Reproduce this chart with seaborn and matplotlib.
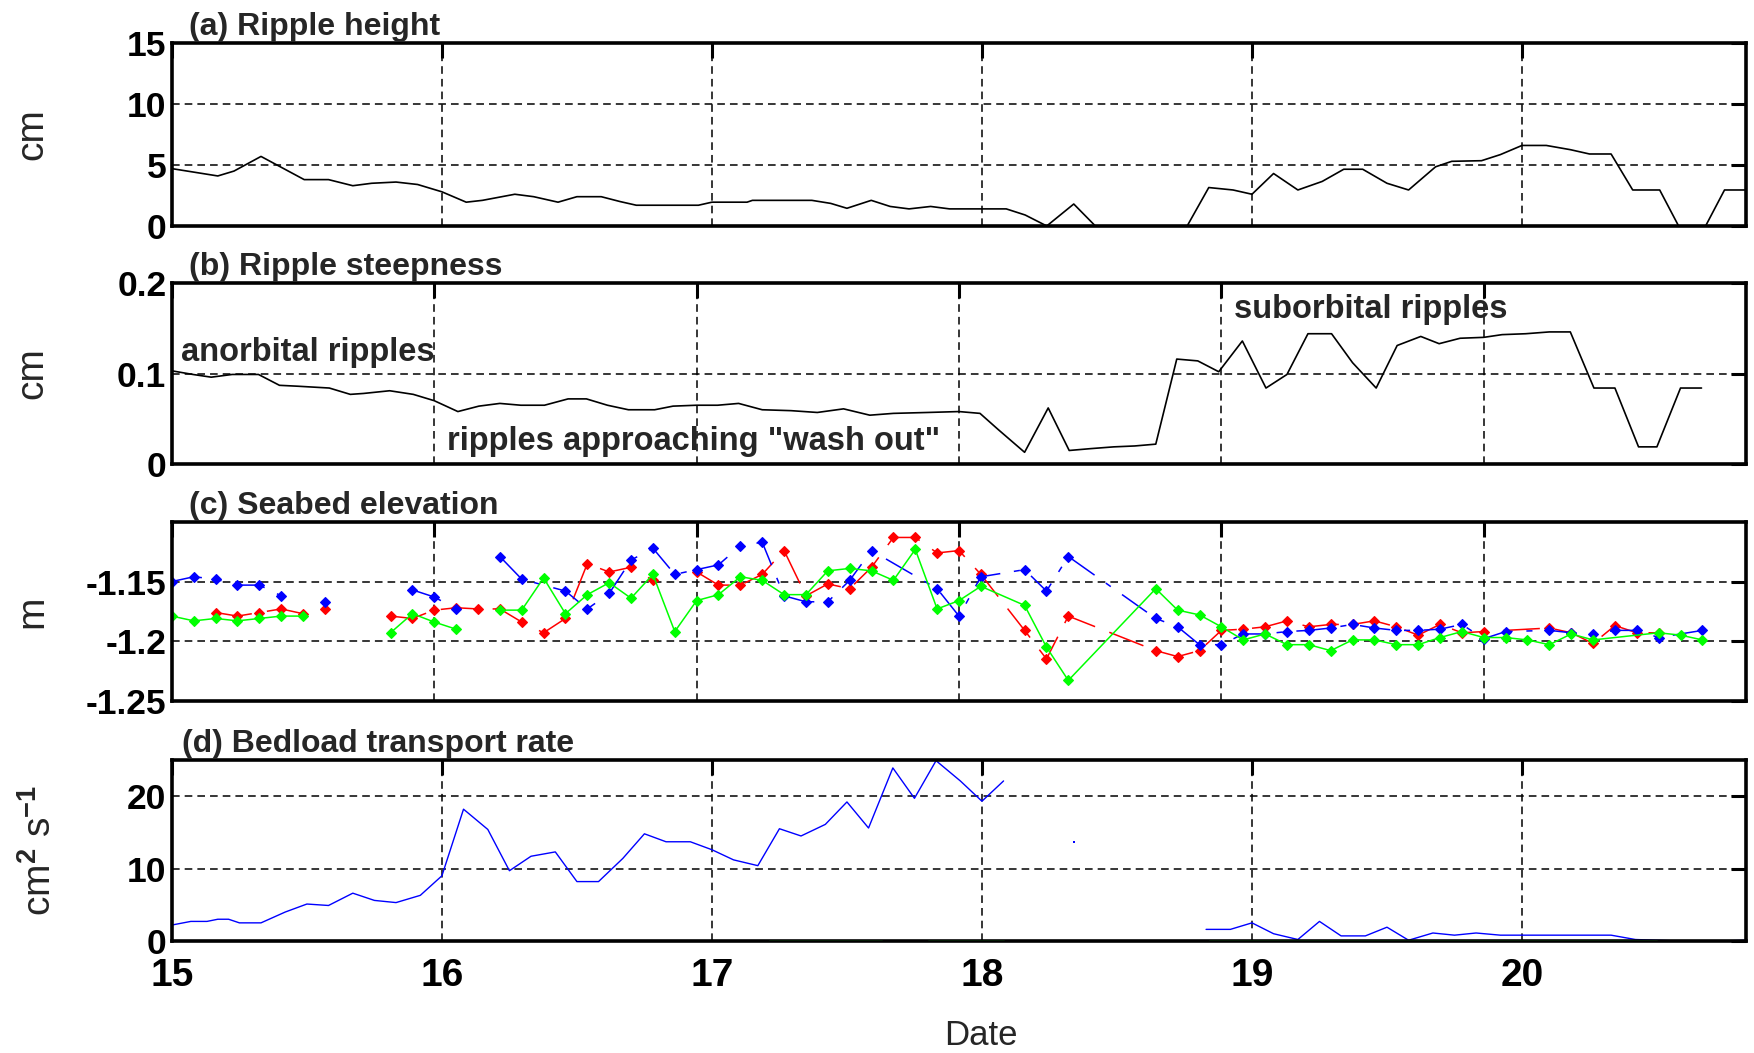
import numpy as np
import pandas as pd
import matplotlib
matplotlib.use("Agg")
import matplotlib.pyplot as plt
import seaborn as sns

# ------------------------------------------------------------------ data
# (a) Ripple height (cm)
height_day = [15.00, 15.17, 15.23, 15.33, 15.49, 15.58, 15.67, 15.74, 15.83, 15.91,
              16.00, 16.09, 16.15, 16.27, 16.34, 16.43, 16.50, 16.59, 16.66, 16.72,
              16.81, 16.95, 17.00, 17.13, 17.15, 17.37, 17.44, 17.50, 17.59, 17.66,
              17.73, 17.81, 17.88, 18.00, 18.09, 18.16, 18.24, 18.34, 18.42, 18.50,
              18.58, 18.67, 18.76, 18.84, 18.93, 19.00, 19.08, 19.17, 19.26, 19.34,
              19.41, 19.50, 19.58, 19.68, 19.74, 19.85, 19.92, 20.00, 20.09, 20.18,
              20.25, 20.33, 20.41, 20.51, 20.58, 20.68, 20.75, 20.83]
height_cm = [4.7, 4.1, 4.5, 5.7, 3.8, 3.8, 3.3, 3.5, 3.6, 3.4,
             2.8, 1.95, 2.1, 2.6, 2.4, 1.95, 2.4, 2.4, 2.0, 1.7,
             1.7, 1.7, 1.95, 1.95, 2.1, 2.1, 1.85, 1.45, 2.1, 1.6,
             1.4, 1.6, 1.4, 1.4, 1.4, 0.9, 0.0, 1.8, 0.0, 0.0,
             0.0, 0.0, 0.0, 3.15, 2.95, 2.6, 4.3, 2.95, 3.65, 4.65,
             4.65, 3.5, 2.95, 4.85, 5.3, 5.35, 5.85, 6.6, 6.6, 6.25,
             5.9, 5.9, 2.95, 2.95, 0.0, 0.0, 2.95, 2.95]

# (b) Ripple steepness
steep_day = [15.00, 15.08, 15.15, 15.23, 15.33, 15.41, 15.48, 15.60, 15.68, 15.73,
             15.83, 15.92, 16.00, 16.09, 16.17, 16.25, 16.33, 16.42, 16.51, 16.58,
             16.66, 16.74, 16.84, 16.91, 17.00, 17.08, 17.16, 17.25, 17.36, 17.46,
             17.56, 17.66, 17.75, 17.88, 18.00, 18.08, 18.15, 18.25, 18.34, 18.42,
             18.50, 18.59, 18.67, 18.75, 18.83, 18.91, 18.99, 19.08, 19.17, 19.25,
             19.33, 19.42, 19.50, 19.59, 19.67, 19.76, 19.83, 19.91, 20.00, 20.07,
             20.16, 20.25, 20.33, 20.42, 20.50, 20.59, 20.66, 20.75, 20.83]
steepness = [0.103, 0.099, 0.096, 0.099, 0.099, 0.087, 0.086, 0.084, 0.077, 0.078,
             0.081, 0.077, 0.070, 0.058, 0.064, 0.067, 0.065, 0.065, 0.072, 0.072,
             0.065, 0.060, 0.060, 0.064, 0.065, 0.065, 0.067, 0.060, 0.059, 0.057,
             0.061, 0.054, 0.056, 0.057, 0.058, 0.056, 0.038, 0.013, 0.062, 0.015,
             0.017, 0.019, 0.020, 0.022, 0.116, 0.114, 0.102, 0.136, 0.084, 0.099,
             0.144, 0.144, 0.112, 0.084, 0.131, 0.141, 0.133, 0.139, 0.140, 0.143,
             0.144, 0.146, 0.146, 0.084, 0.084, 0.019, 0.019, 0.084, 0.084]

# (c) Seabed elevation (m); sample index = 2-hour interval since day 15; nan = gap
blue_idx = [0, 1, 2, 3, 4, 5, 6, 7, 8, 11, 12, 13, 14, 15, 16, 18, 19, 20, 21, 22,
            23, 24, 25, 26, 27, 28, 29, 30, 31, 32, 35, 36, 37, 39, 40, 41, 45, 46, 47, 48,
            49, 50, 51, 52, 53, 54, 55, 56, 57, 58, 59, 60, 61, 63, 64, 65, 66, 67, 68, 70]
blue_elev = [-1.150, -1.146, -1.148, -1.153, -1.153, -1.162, np.nan, -1.167, np.nan, -1.157,
             -1.163, -1.173, np.nan, -1.129, -1.148, -1.158, -1.173, -1.160, -1.132, -1.122,
             -1.144, -1.140, -1.136, -1.120, -1.117, -1.162, -1.167, -1.167, -1.149, -1.124,
             -1.156, -1.179, -1.146, -1.140, -1.158, -1.129, -1.181, -1.188, -1.203, -1.203,
             -1.194, -1.194, -1.192, -1.191, -1.189, -1.186, -1.189, -1.191, -1.191, -1.190,
             -1.186, -1.198, -1.192, -1.191, -1.193, -1.194, -1.191, -1.191, -1.197, -1.191]
red_idx = [2, 3, 4, 5, 6, 6.5, 7, 8, 10, 11, 12, 13, 14, 15, 16, 17, 18, 19, 20, 21,
           22, 23, 24, 25, 26, 27, 28, 29, 30, 31, 32, 33, 34, 35, 36, 37, 39, 40, 41, 45,
           46, 47, 48, 49, 50, 51, 52, 53, 54, 55, 56, 57, 58, 59, 60, 63, 64, 65, 66, 67, 68]
red_elev = [-1.176, -1.179, -1.176, -1.173, -1.177, np.nan, -1.173, np.nan, -1.179, -1.181,
            -1.174, -1.172, -1.173, -1.173, -1.184, -1.193, -1.181, -1.135, -1.142, -1.138,
            -1.149, np.nan, -1.142, -1.153, -1.153, -1.144, -1.124, -1.162, -1.152, -1.156,
            -1.138, -1.113, -1.113, -1.126, -1.124, -1.144, -1.191, -1.215, -1.179, -1.208,
            -1.213, -1.208, -1.191, -1.190, -1.188, -1.183, -1.188, -1.186, -1.186, -1.183,
            -1.188, -1.195, -1.186, -1.193, -1.192, -1.189, -1.193, -1.202, -1.187, -1.193, -1.193]
green_idx = [0, 1, 2, 3, 4, 5, 6, 8, 10, 11, 12, 13, 14, 15, 16, 17, 18, 19, 20, 21,
             22, 23, 24, 25, 26, 27, 28, 29, 30, 31, 32, 33, 34, 35, 36, 37, 39, 40, 41, 45,
             46, 47, 48, 49, 50, 51, 52, 53, 54, 55, 56, 57, 58, 59, 60, 61, 62, 63, 64, 65,
             68, 69, 70]
green_elev = [-1.179, -1.183, -1.181, -1.183, -1.181, -1.179, -1.179, np.nan, -1.193, -1.177,
              -1.184, -1.190, np.nan, -1.174, -1.174, -1.147, -1.177, -1.161, -1.151, -1.164,
              -1.144, -1.192, -1.166, -1.161, -1.146, -1.149, -1.161, -1.161, -1.141, -1.139,
              -1.141, -1.149, -1.123, -1.173, -1.166, -1.154, -1.170, -1.205, -1.233, -1.156,
              -1.174, -1.178, -1.188, -1.199, -1.194, -1.203, -1.203, -1.208, -1.199, -1.199,
              -1.203, -1.203, -1.197, -1.192, -1.197, -1.197, -1.199, -1.203, -1.194, -1.199,
              -1.193, -1.195, -1.199]

# (d) Bedload transport rate (cm^2 s^-1); nan = gap
bed_day = [15.00, 15.07, 15.13, 15.17, 15.21, 15.25, 15.33, 15.42, 15.50, 15.58,
           15.67, 15.75, 15.83, 15.92, 16.00, 16.08, 16.17, 16.25, 16.33, 16.42,
           16.50, 16.58, 16.67, 16.75, 16.83, 16.92, 17.00, 17.08, 17.17, 17.25,
           17.33, 17.42, 17.50, 17.58, 17.67, 17.75, 17.83, 17.92, 18.00, 18.08,
           18.20, 18.34, 18.50, 18.83, 18.92, 19.00, 19.08, 19.17, 19.25, 19.33,
           19.42, 19.50, 19.58, 19.67, 19.75, 19.83, 19.92, 20.00, 20.08, 20.17,
           20.25, 20.33, 20.42, 20.50, 20.58, 20.67, 20.75, 20.83]
bed_rate = [2.2, 2.7, 2.7, 3.0, 3.0, 2.5, 2.5, 4.0, 5.1, 4.9,
            6.6, 5.6, 5.3, 6.3, 9.0, 18.2, 15.4, 9.7, 11.7, 12.3,
            8.2, 8.2, 11.4, 14.8, 13.7, 13.7, 12.6, 11.2, 10.4, 15.5,
            14.5, 16.1, 19.2, 15.6, 23.9, 19.7, 24.9, 22.1, 19.3, 22.1,
            np.nan, 13.7, np.nan, 1.6, 1.6, 2.5, 1.0, 0.2, 2.7, 0.7,
            0.7, 1.9, 0.1, 1.1, 0.8, 1.1, 0.8, 0.8, 0.8, 0.8,
            0.8, 0.8, 0.2, 0.1, 0.0, 0.0, 0.0, 0.1]
bed2_day = [17.21, 17.63, 17.64, 17.80, 18.08, 18.09, 18.84, 20.50]
bed2_rate = [0.0, 0.0, np.nan, 0.0, 0.0, np.nan, 0.0, 0.0]

day_ticks = [15, 16, 17, 18, 19, 20]
a_ticks, a_labels = [0, 5, 10, 15], ["0", "5", "10", "15"]
b_ticks, b_labels = [0, 0.1, 0.2], ["0", "0.1", "0.2"]
c_ticks, c_labels = [-1.25, -1.2, -1.15], ["-1.25", "-1.2", "-1.15"]
d_ticks, d_labels = [0, 10, 20], ["0", "10", "20"]

# ------------------------------------------------------------------ style
sns.set_style("white")
plt.rcParams["font.family"] = ["Liberation Sans", "DejaVu Sans"]
plt.rcParams["font.weight"] = "bold"
plt.rcParams["axes.unicode_minus"] = False
plt.rcParams["mathtext.fontset"] = "custom"
plt.rcParams["mathtext.rm"] = "Liberation Sans:bold"
plt.rcParams["mathtext.it"] = "Liberation Sans:bold"
plt.rcParams["mathtext.default"] = "rm"

YTICK_FS = 25.5
XTICK_FS = 28
YLABEL_FS = 28
XLABEL_FS = 25
TEXT_FS = 23.5
TITLE_FS = 23
GRID_LS = (0, (5, 3.3))


def segments(x, y):
    x = np.asarray(x, float)
    y = np.asarray(y, float)
    seg = np.cumsum(np.isnan(y))
    df = pd.DataFrame({"x": x, "y": y, "seg": seg})
    return df.dropna()


def style_axes(ax, xlim, ylim, yticks, ylabels, bottom_labels=False):
    ax.set_xlim(*xlim)
    ax.set_ylim(*ylim)
    ax.set_xticks(day_ticks)
    ax.set_xticklabels([str(d) for d in day_ticks])
    ax.set_yticks(yticks)
    ax.set_yticklabels(ylabels)
    ax.tick_params(direction="in", length=11, width=2.2, top=True, right=True,
                   pad=4, labelbottom=bottom_labels, colors="black")
    ax.tick_params(axis="y", labelsize=YTICK_FS)
    ax.tick_params(axis="x", pad=12, labelsize=XTICK_FS)
    ax.grid(True, color="black", linestyle=GRID_LS, linewidth=1.1)
    ax.set_axisbelow(True)
    for sp in ax.spines.values():
        sp.set_visible(True)
        sp.set_linewidth(2.6)
        sp.set_color("black")
    ax.set_xlabel("")
    ax.set_ylabel("")


def panel_title(ax, text, dx=12):
    ax.annotate(text, xy=(0, 1), xycoords="axes fraction", xytext=(dx, 5.5),
                textcoords="offset points", ha="left", va="baseline",
                fontsize=TITLE_FS)


fig = plt.figure(figsize=(17.54, 10.53), dpi=100)
L, W = 0.098, 0.8975
ax_a = fig.add_axes([L, 0.7854, W, 0.1738])
ax_b = fig.add_axes([L, 0.5593, W, 0.1719])
ax_c = fig.add_axes([L, 0.3346, W, 0.1697])
ax_d = fig.add_axes([L, 0.1064, W, 0.1719])

# (a)
df_a = pd.DataFrame({"day": height_day, "h": height_cm})
sns.lineplot(data=df_a, x="day", y="h", ax=ax_a, color="black", linewidth=1.2,
             sort=False, estimator=None)
style_axes(ax_a, (15, 20.83), (0, 15), a_ticks, a_labels)
panel_title(ax_a, "(a) Ripple height")
ax_a.set_ylabel("cm", fontsize=YLABEL_FS)
ax_a.yaxis.set_label_coords(-0.077, 0.5)

# (b)
df_b = pd.DataFrame({"day": steep_day, "s": steepness})
sns.lineplot(data=df_b, x="day", y="s", ax=ax_b, color="black", linewidth=1.2,
             sort=False, estimator=None)
style_axes(ax_b, (15, 21), (0, 0.2), b_ticks, b_labels)
panel_title(ax_b, "(b) Ripple steepness")
ax_b.set_ylabel("cm", fontsize=YLABEL_FS)
ax_b.yaxis.set_label_coords(-0.077, 0.5)
ax_b.text(15.035, 0.114, "anorbital ripples", fontsize=TEXT_FS, ha="left", va="baseline")
ax_b.text(16.05, 0.015, 'ripples approaching "wash out"', fontsize=TEXT_FS,
          ha="left", va="baseline")
ax_b.text(19.05, 0.161, "suborbital ripples", fontsize=TEXT_FS, ha="left", va="baseline")

# (c)
series_c = [
    (red_idx, red_elev, "#ff0000", (0, (24, 10))),
    (blue_idx, blue_elev, "#0000ff", (0, (20, 9, 4, 9))),
    (green_idx, green_elev, "#00ff00", "-"),
]
for idx, elev, col, ls in series_c:
    days = 15 + np.asarray(idx, float) * 2.0 / 24.0
    d = segments(days, elev)
    sns.lineplot(data=d, x="x", y="y", units="seg", estimator=None, ax=ax_c,
                 color=col, linewidth=1.1, linestyle=ls, marker="D", markersize=5.4,
                 markeredgecolor=col, markerfacecolor=col, markeredgewidth=0.8)
style_axes(ax_c, (15, 21), (-1.25, -1.10), c_ticks, c_labels)
panel_title(ax_c, "(c) Seabed elevation")
ax_c.set_ylabel("m", fontsize=YLABEL_FS)
ax_c.yaxis.set_label_coords(-0.077, 0.5)

# (d)
d_df = segments(bed_day, bed_rate)
counts = d_df["seg"].map(d_df["seg"].value_counts())
sns.lineplot(data=d_df[counts > 1], x="x", y="y", units="seg", estimator=None,
             ax=ax_d, color="#0000ff", linewidth=1.0)
sns.scatterplot(data=d_df[counts == 1], x="x", y="y", ax=ax_d, color="#0000ff",
                marker="s", s=3, linewidth=0)
d2 = segments(bed2_day, bed2_rate)
sns.lineplot(data=d2, x="x", y="y", units="seg", estimator=None, ax=ax_d,
             color="#1e8c1e", linewidth=1.0, zorder=3)
style_axes(ax_d, (15, 20.83), (0, 25), d_ticks, d_labels, bottom_labels=True)
panel_title(ax_d, "(d) Bedload transport rate", dx=7)
ax_d.set_ylabel("cm$^2$ s$^{-1}$", fontsize=YLABEL_FS)
ax_d.yaxis.set_label_coords(-0.072, 0.5)
ax_d.set_xlabel("Date", fontsize=XLABEL_FS)
ax_d.xaxis.set_label_coords(0.514, -0.43)

fig.savefig("out.png", dpi=100, facecolor="white")
